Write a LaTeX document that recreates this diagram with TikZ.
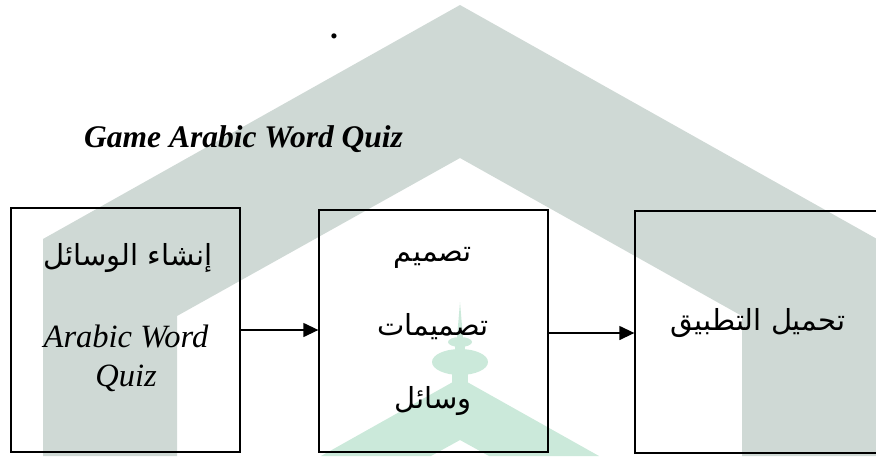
\documentclass[tikz,border=0pt]{standalone}
\usepackage{fontspec}
\setmainfont{Liberation Serif}
\newfontfamily\arabicfont[Script=Arabic]{DejaVu Sans}
\TeXXeTstate=1
\usetikzlibrary{arrows.meta}
\definecolor{wmgray}{RGB}{207,217,213}
\definecolor{wmgreen}{RGB}{203,233,218}
\tikzset{
  box/.style={draw=black, line width=1.3pt, inner sep=0pt},
  arlabel/.style={font=\arabicfont\fontsize{29}{33}\selectfont, inner sep=0pt},
  enlabel/.style={font=\fontsize{32.5}{37}\selectfont\itshape, inner sep=0pt, anchor=base},
  flow/.style={line width=1.3pt, -{Triangle[length=15pt,width=14pt]}},
}
\begin{document}
\begin{tikzpicture}[x=1pt,y=-1pt]
\useasboundingbox (0,0) rectangle (876,456);
% gray watermark chevron
\fill[wmgray] (43,456) -- (43,239) -- (460,5) -- (877,239) -- (877,456) -- (742,456)
  -- (742,316) -- (460,158) -- (177,316) -- (177,456) -- cycle;
% green minaret
\fill[wmgreen] (460,302) -- (463,338) -- (457,338) -- cycle;
\fill[wmgreen] (460,342) ellipse[x radius=12, y radius=5];
\fill[wmgreen] (455,345) rectangle (465,352);
\fill[wmgreen] (460,362) ellipse[x radius=28, y radius=13];
\fill[wmgreen] (452,372) rectangle (468,384);
\fill[wmgreen] (321,456) -- (460,378) -- (599,456) -- (489,456) -- (460,440) -- (431,456) -- cycle;
% dot and title
\node[inner sep=0pt, font=\fontsize{31.5}{36}\selectfont\bfseries] (dot) at (334,36) {.};
\node[inner sep=0pt, anchor=base west, font=\fontsize{31.5}{36}\selectfont\bfseries\itshape] (title) at (84,147) {Game Arabic Word Quiz};
% boxes
\node[box, minimum width=229pt, minimum height=244pt] (b1) at (125.5,330) {};
\node[box, minimum width=229pt, minimum height=242pt] (b2) at (433.5,331) {};
\node[box, minimum width=245pt, minimum height=242pt] (b3) at (757.5,332) {};
% texts
\node[arlabel] (t1a) at (128,258) {\beginR إنشاء الوسائل\endR};
\node[enlabel] (t1b) at (126,347) {Arabic Word};
\node[enlabel] (t1c) at (126,386) {Quiz};
\node[arlabel] (t2a) at (433,258) {\beginR تصميم\endR};
\node[arlabel] (t2b) at (433,327) {\beginR تصميمات\endR};
\node[arlabel] (t2c) at (433,401) {\beginR وسائل\endR};
\node[arlabel] (t3a) at (758,323) {\beginR تحميل التطبيق\endR};
% arrows
\draw[flow] (b1.east) -- (b1.east -| b2.west);
\draw[flow] ([yshift=-2pt]b2.east) -- ([yshift=-2pt]b2.east -| b3.west);
\end{tikzpicture}
\end{document}
